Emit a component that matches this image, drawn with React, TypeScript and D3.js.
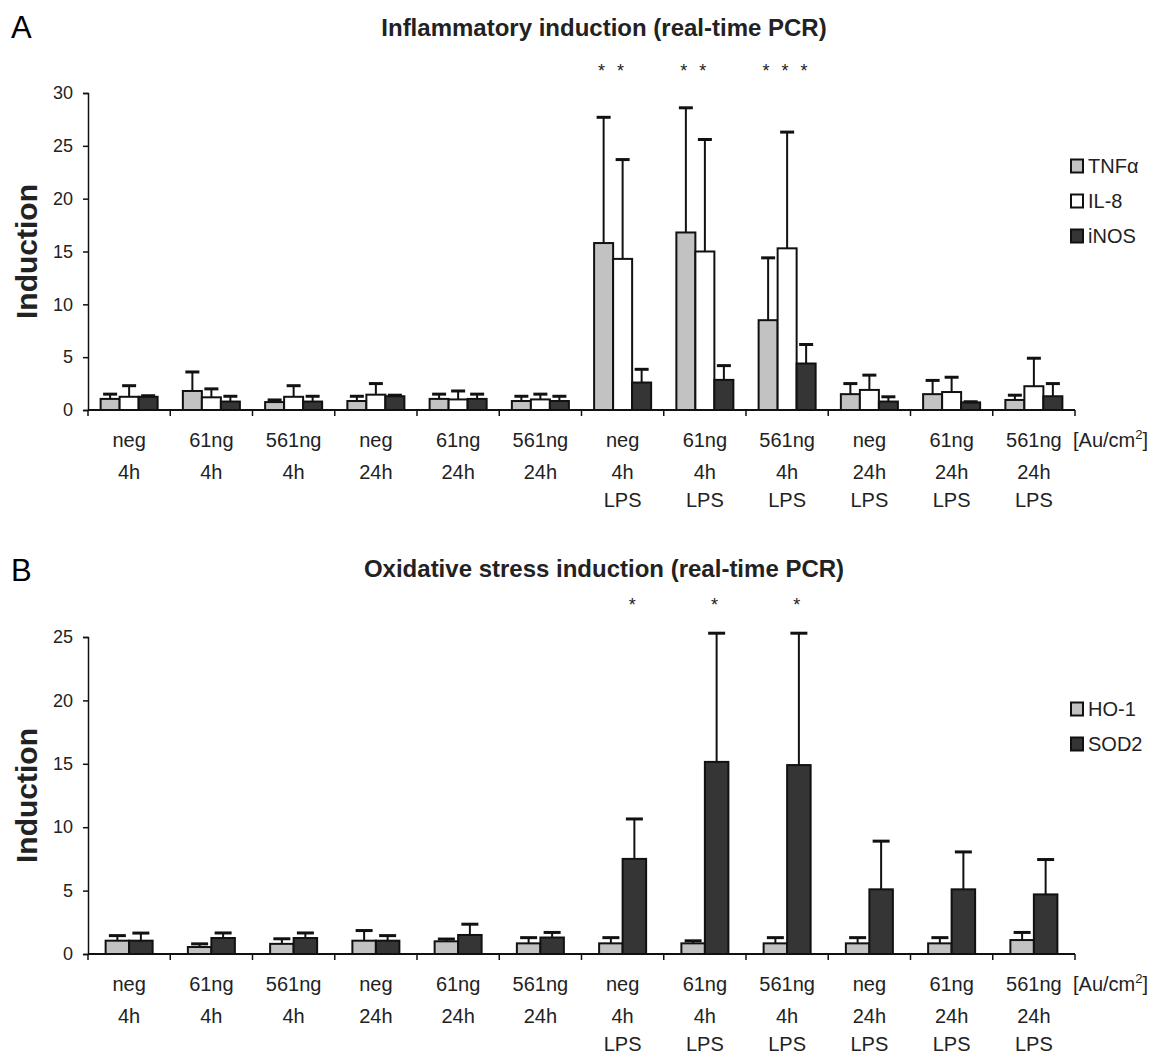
import { useRef, useEffect } from 'react';
import * as d3 from 'd3';

// group labels (x axis, three rows)
const doseLabels = ['neg', '61ng', '561ng', 'neg', '61ng', '561ng', 'neg', '61ng', '561ng', 'neg', '61ng', '561ng'];
const timeLabels = ['4h', '4h', '4h', '24h', '24h', '24h', '4h', '4h', '4h', '24h', '24h', '24h'];
const lpsLabels = ['', '', '', '', '', '', 'LPS', 'LPS', 'LPS', 'LPS', 'LPS', 'LPS'];

// panel A: inflammatory markers (mean, upper error)
const tnfMean = [1.05, 1.8, 0.75, 0.85, 1.05, 0.85, 15.8, 16.8, 8.5, 1.5, 1.5, 0.95];
const tnfErr = [0.45, 1.8, 0.2, 0.45, 0.45, 0.45, 11.9, 11.8, 5.9, 1.0, 1.3, 0.45];
const il8Mean = [1.25, 1.2, 1.25, 1.45, 1.0, 1.0, 14.3, 15.0, 15.3, 1.9, 1.7, 2.25];
const il8Err = [1.05, 0.8, 1.05, 1.05, 0.8, 0.5, 9.4, 10.6, 11.0, 1.4, 1.4, 2.65];
const inosMean = [1.25, 0.8, 0.8, 1.3, 1.05, 0.85, 2.6, 2.85, 4.4, 0.8, 0.72, 1.3];
const inosErr = [0.1, 0.5, 0.5, 0.1, 0.45, 0.45, 1.25, 1.35, 1.8, 0.45, 0.06, 1.2];
const tnfSig = [0, 0, 0, 0, 0, 0, 1, 1, 1, 0, 0, 0];
const il8Sig = [0, 0, 0, 0, 0, 0, 1, 1, 1, 0, 0, 0];
const inosSig = [0, 0, 0, 0, 0, 0, 0, 0, 1, 0, 0, 0];

// panel B: oxidative stress markers
const hoMean = [1.05, 0.55, 0.8, 1.05, 1.0, 0.84, 0.84, 0.84, 0.84, 0.84, 0.84, 1.1];
const hoErr = [0.4, 0.25, 0.4, 0.8, 0.18, 0.45, 0.45, 0.2, 0.45, 0.45, 0.45, 0.6];
const sodMean = [1.05, 1.26, 1.26, 1.05, 1.5, 1.3, 7.5, 15.15, 14.9, 5.1, 5.1, 4.7];
const sodErr = [0.6, 0.4, 0.4, 0.4, 0.85, 0.4, 3.15, 10.15, 10.4, 3.8, 2.95, 2.75];
const hoSig = [0, 0, 0, 0, 0, 0, 0, 0, 0, 0, 0, 0];
const sodSig = [0, 0, 0, 0, 0, 0, 1, 1, 1, 0, 0, 0];

const FONT = '"Liberation Sans", Arial, sans-serif';
const LIGHT = '#c2c2c2';
const DARK = '#353535';

const panels = [
  {
    letter: 'A', title: 'Inflammatory induction (real-time PCR)',
    top: 93, bottom: 410, max: 30, outer: 0.664, capW: 14, legendY: 166,
    letterY: 38, titleY: 36, starY: 77,
    series: [
      { name: 'TNFα', mean: tnfMean, err: tnfErr, sig: tnfSig, fill: LIGHT },
      { name: 'IL-8', mean: il8Mean, err: il8Err, sig: il8Sig, fill: '#ffffff' },
      { name: 'iNOS', mean: inosMean, err: inosErr, sig: inosSig, fill: DARK },
    ],
  },
  {
    letter: 'B', title: 'Oxidative stress induction (real-time PCR)',
    top: 637, bottom: 954, max: 25, outer: 0.75, capW: 17, legendY: 709,
    letterY: 581, titleY: 577, starY: 611,
    series: [
      { name: 'HO-1', mean: hoMean, err: hoErr, sig: hoSig, fill: LIGHT },
      { name: 'SOD2', mean: sodMean, err: sodErr, sig: sodSig, fill: DARK },
    ],
  },
];

export default function App() {
  const svgRef = useRef(null);

  useEffect(() => {
    const svg = d3.select(svgRef.current);
    svg.selectAll('*').remove();
    const x = d3.scaleBand().domain(d3.range(12)).range([88, 1075]).padding(0);

    panels.forEach(p => {
      const g = svg.append('g');
      const y = d3.scaleLinear().domain([0, p.max]).range([p.bottom, p.top]);
      const inner = d3.scaleBand().domain(p.series.map(s => s.name))
        .range([0, x.bandwidth()]).paddingInner(0).paddingOuter(p.outer);

      g.append('text').attr('x', 11).attr('y', p.letterY).attr('font-size', 31)
        .attr('font-family', FONT).text(p.letter);
      g.append('text').attr('x', 604).attr('y', p.titleY)
        .attr('text-anchor', 'middle').attr('font-size', 24).attr('font-weight', 'bold')
        .attr('font-family', FONT).attr('fill', '#222').text(p.title);

      g.append('text').attr('font-size', 30).attr('font-weight', 'bold').attr('font-family', FONT)
        .attr('text-anchor', 'middle').attr('fill', '#222')
        .attr('transform', `translate(37,${(p.top + p.bottom) / 2}) rotate(-90)`).text('Induction');

      // y axis
      g.append('g').attr('transform', 'translate(88,0)')
        .call(d3.axisLeft(y).tickValues(d3.range(0, p.max + 1, 5)).tickSize(5).tickPadding(10))
        .call(a => a.select('.domain').attr('stroke', '#111').attr('stroke-width', 1.5))
        .call(a => a.selectAll('.tick line').attr('stroke', '#111').attr('stroke-width', 1.5))
        .call(a => a.selectAll('text').attr('font-size', 18).attr('font-family', FONT).attr('fill', '#222'));

      // bars
      p.series.forEach(s => {
        g.append('g').selectAll('rect').data(s.mean).join('rect')
          .attr('x', (d, i) => x(i) + inner(s.name))
          .attr('y', d => y(d))
          .attr('width', inner.bandwidth())
          .attr('height', d => p.bottom - y(d))
          .attr('fill', s.fill).attr('stroke', '#111').attr('stroke-width', 2);
      });

      // error bars (upper only) and significance marks
      p.series.forEach(s => {
        const eg = g.append('g').attr('stroke', '#111').attr('stroke-width', 2);
        s.mean.forEach((m, i) => {
          const cx = x(i) + inner(s.name) + inner.bandwidth() / 2;
          eg.append('line').attr('x1', cx).attr('x2', cx).attr('y1', y(m)).attr('y2', y(m + s.err[i]));
          eg.append('line').attr('x1', cx - p.capW / 2).attr('x2', cx + p.capW / 2)
            .attr('y1', y(m + s.err[i])).attr('y2', y(m + s.err[i])).attr('stroke-width', 3);
        });
        s.sig.forEach((v, i) => {
          if (!v) return;
          g.append('text').attr('x', x(i) + inner(s.name) + inner.bandwidth() / 2 - 2)
            .attr('y', p.starY)
            .attr('text-anchor', 'middle').attr('font-size', 18).attr('font-family', FONT)
            .attr('fill', '#222').text('*');
        });
      });

      // x axis
      g.append('line').attr('x1', 88).attr('x2', 1075).attr('y1', p.bottom).attr('y2', p.bottom)
        .attr('stroke', '#111').attr('stroke-width', 2);
      g.selectAll('.xt').data(d3.range(13)).join('line').attr('class', 'xt')
        .attr('x1', i => 88 + i * x.step()).attr('x2', i => 88 + i * x.step())
        .attr('y1', p.bottom).attr('y2', p.bottom + 6).attr('stroke', '#111').attr('stroke-width', 1.5);

      [doseLabels, timeLabels, lpsLabels].forEach((row, r) => {
        g.append('g').selectAll('text').data(row).join('text')
          .attr('x', (d, i) => x(i) + x.bandwidth() / 2)
          .attr('y', p.bottom + [37, 69, 97][r])
          .attr('text-anchor', 'middle').attr('font-size', 20).attr('font-family', FONT).attr('fill', '#222')
          .text(d => d);
      });
      const unit = g.append('text').attr('x', 1073).attr('y', p.bottom + 37)
        .attr('font-size', 20).attr('font-family', FONT).attr('fill', '#222');
      unit.append('tspan').text('[Au/cm');
      unit.append('tspan').attr('dy', -8).attr('font-size', 13).text('2');
      unit.append('tspan').attr('dy', 8).text(']');

      // legend
      p.series.forEach((s, i) => {
        const ly = p.legendY + i * 35;
        g.append('rect').attr('x', 1071).attr('y', ly - 6.5).attr('width', 12).attr('height', 13)
          .attr('fill', s.fill).attr('stroke', '#111').attr('stroke-width', 2);
        g.append('text').attr('x', 1088).attr('y', ly + 7).attr('font-size', 20)
          .attr('font-family', FONT).attr('fill', '#222').text(s.name);
      });
    });
  }, []);

  return (
    <div style={{ position: 'absolute', left: 0, top: 0, background: '#fff' }}>
      <svg ref={svgRef} width={1152} height={1054} style={{ display: 'block' }} />
    </div>
  );
}
